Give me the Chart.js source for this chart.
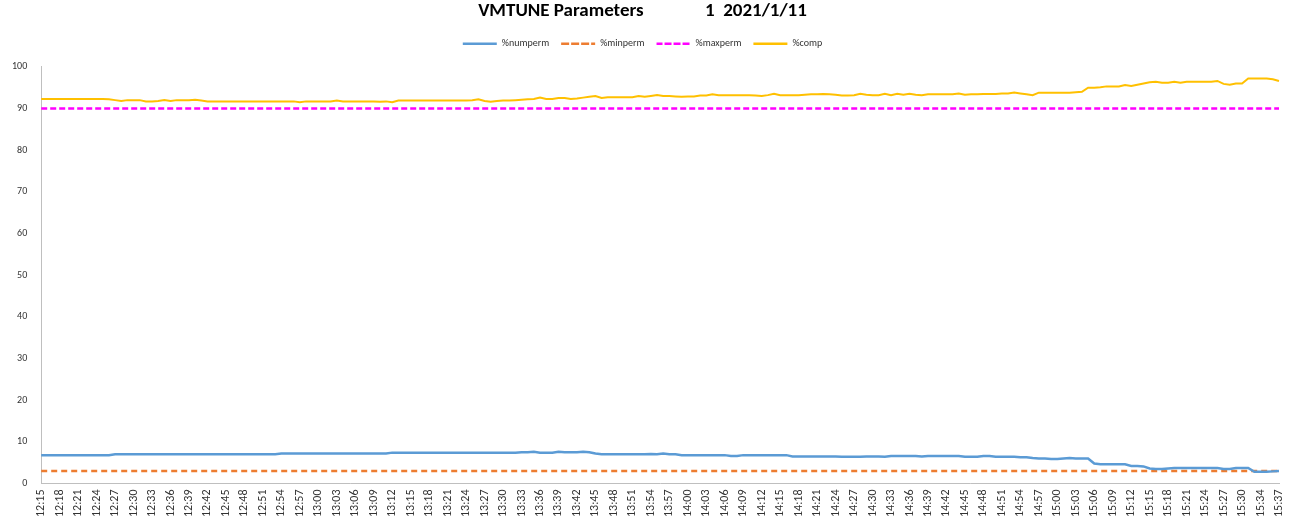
<!DOCTYPE html>
<html><head><meta charset="utf-8">
<script src="https://cdn.jsdelivr.net/npm/chart.js@4"></script>
<style>html,body{margin:0;background:#fff}#w{width:1307px;height:523px}</style>
</head><body><div id="w"><canvas id="c"></canvas></div>
<script>
// categories: sample times (one per minute, 15:33 missing)
const categories = (function(){const a=[];for(let m=12*60+15;m<=15*60+37;m++){if(m===15*60+33)continue;a.push(Math.floor(m/60)+':'+String(m%60).padStart(2,'0'));}return a;})();
const numperm = [
6.8,6.8,6.8,6.8,6.8,6.8,6.8,6.8,6.8,6.8,6.8,6.8,
7.0,7.0,7.0,7.0,7.0,7.0,7.0,7.0,7.0,7.0,7.0,7.0,7.0,7.0,7.0,7.0,7.0,7.0,7.0,7.0,7.0,7.0,7.0,7.0,7.0,7.0,7.0,
7.2,7.2,7.2,7.2,7.2,7.2,7.2,7.2,7.2,7.2,7.2,7.2,7.2,7.2,7.2,7.2,7.2,7.2,
7.4,7.4,7.4,7.4,7.4,7.4,7.4,7.4,7.4,7.4,7.4,7.4,7.4,7.4,7.4,7.4,7.4,7.4,7.4,7.4,7.4,
7.5,7.5,7.6,7.4,7.4,7.4,7.6,7.5,7.5,7.5,7.6,7.5,
7.2,7.0,7.0,7.0,7.0,7.0,7.0,7.0,7.0,7.1,7.0,7.2,7.0,7.0,6.8,
6.8,6.8,6.8,6.8,6.8,6.8,6.8,6.6,6.6,6.8,6.8,6.8,6.8,6.8,6.8,6.8,6.8,6.5,
6.5,6.5,6.5,6.5,6.5,6.5,6.5,6.4,6.4,6.4,6.4,6.5,6.5,6.5,6.4,
6.6,6.6,6.6,6.6,6.6,6.5,6.6,6.6,6.6,6.6,6.6,6.6,6.4,6.4,6.4,6.6,6.6,6.4,6.4,6.4,6.4,6.3,6.3,6.1,
6.0,6.0,5.9,5.9,6.0,6.1,6.0,6.0,6.0,
4.8,4.6,4.6,4.6,4.6,4.6,4.2,4.2,4.1,
3.6,3.5,3.5,3.6,3.7,3.7,3.7,3.7,3.7,3.7,3.7,3.7,3.5,3.5,3.7,
3.7,3.7,2.8,
2.8,2.8,2.9,
3.0];
const minperm = categories.map(()=>3);
const maxperm = categories.map(()=>90);
const comp = [
92.3,92.3,92.3,92.3,92.3,92.3,92.3,92.3,92.3,92.3,92.3,92.2,
92.0,91.8,92.0,92.0,92.0,91.7,91.7,91.8,92.0,91.8,92.0,92.0,92.0,92.1,91.9,91.7,91.7,91.7,91.7,91.7,91.7,91.7,91.7,91.7,91.7,91.7,91.7,
91.7,91.7,91.7,91.5,91.7,91.7,91.7,91.7,91.7,91.9,91.7,91.7,91.7,91.7,91.7,91.7,91.6,91.7,
91.5,91.9,91.9,91.9,91.9,91.9,91.9,91.9,91.9,91.9,91.9,91.9,91.9,92.0,92.2,91.8,91.6,91.8,91.9,91.9,92.0,
92.1,92.2,92.3,92.6,92.3,92.3,92.5,92.5,92.3,92.4,92.6,92.8,
93.0,92.5,92.7,92.7,92.7,92.7,92.7,93.0,92.8,93.0,93.2,93.0,93.0,92.9,92.8,
92.9,92.9,93.1,93.1,93.4,93.2,93.2,93.2,93.2,93.2,93.2,93.1,93.0,93.2,93.5,93.2,93.2,93.2,
93.2,93.3,93.4,93.4,93.5,93.4,93.3,93.1,93.1,93.2,93.5,93.3,93.2,93.2,93.5,
93.2,93.5,93.3,93.5,93.3,93.2,93.4,93.4,93.4,93.4,93.4,93.6,93.3,93.4,93.4,93.5,93.5,93.5,93.6,93.6,93.8,93.6,93.4,93.2,
93.8,93.8,93.8,93.8,93.8,93.8,93.9,94.0,95.0,
95.0,95.1,95.3,95.3,95.3,95.6,95.4,95.7,96.0,
96.3,96.4,96.2,96.2,96.4,96.2,96.4,96.4,96.4,96.4,96.4,96.6,95.9,95.7,96.0,
96.0,97.2,97.2,
97.2,97.2,97.0,
96.6];
const yTicks = [0,10,20,30,40,50,60,70,80,90,100];
const titleText = 'VMTUNE Parameters \u2003\u2003\u20031  2021/1/11';

Chart.defaults.font.family = 'Calibri, Carlito, "Liberation Sans", Arial, sans-serif';
Chart.defaults.color = '#000';
new Chart(document.getElementById('c'), {
  type: 'line',
  data: { labels: categories, datasets: [
    {label:'%numperm', data:numperm, borderColor:'#5B9BD5', backgroundColor:'#5B9BD5', borderWidth:2.5},
    {label:'%minperm', data:minperm, borderColor:'#ED7D31', backgroundColor:'#ED7D31', borderWidth:2.5, borderDash:[6,4]},
    {label:'%maxperm', data:maxperm, borderColor:'#FF00FF', backgroundColor:'#FF00FF', borderWidth:2.5, borderDash:[6,3]},
    {label:'%comp', data:comp, borderColor:'#FFC000', backgroundColor:'#FFC000', borderWidth:2}
  ]},
  options: {
    responsive:true, maintainAspectRatio:false, animation:false,
    layout:{padding:{left:6,right:28,top:0,bottom:4}},
    elements:{point:{radius:0}, line:{tension:0}},
    plugins:{
      title:{display:true, text:titleText, font:{size:19, weight:'bold'}, padding:{top:0,bottom:4}},
      legend:{position:'top', labels:{boxWidth:34, boxHeight:0, font:{size:10}, padding:12,
        generateLabels(ch){return ch.data.datasets.map((d,i)=>({text:d.label, strokeStyle:d.borderColor, fillStyle:d.borderColor, lineWidth:2.5, lineDash:d.borderDash||[], datasetIndex:i, fontColor:'#333'}));}}},
      tooltip:{enabled:false}
    },
    scales:{
      x:{grid:{display:false, drawTicks:true, tickLength:4}, border:{color:'#bfbfbf'},
        ticks:{autoSkip:false, maxRotation:90, minRotation:90, font:{size:12}, color:'#333', padding:2,
          callback(v,i){return (i%3===0)? categories[i] : null;}}},
      y:{min:0,max:100, afterBuildTicks(ax){ax.ticks=yTicks.map(v=>({value:v}));}, grid:{display:false}, border:{color:'#bfbfbf'},
        ticks:{font:{size:10}, color:'#333', padding:6}}
    }
  },
  plugins:[{id:'lg', afterInit(ch){const l=ch.legend; const f=l.fit; l.fit=function(){f.bind(l)(); this.height+=8;};}}]
});
</script></body></html>
